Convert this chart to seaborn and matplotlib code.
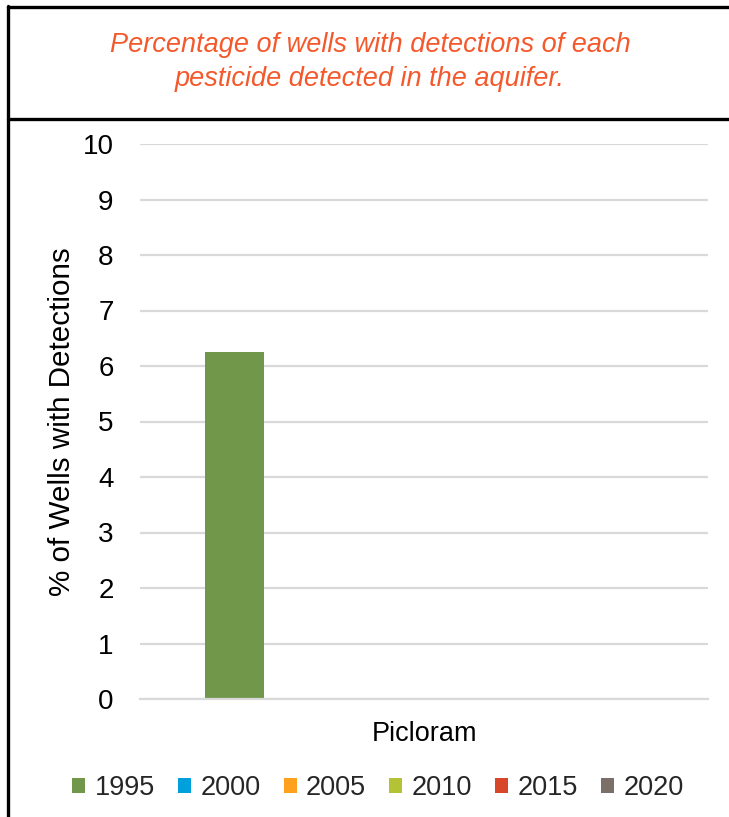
import matplotlib
matplotlib.use("Agg")
import matplotlib.pyplot as plt
from matplotlib.lines import Line2D
import seaborn as sns
import pandas as pd

# Detection data
pesticides = ["Picloram"]
years = ["1995", "2000", "2005", "2010", "2015", "2020"]
pct_detect = [6.25, 0, 0, 0, 0, 0]
year_colors = ["#70974a", "#00a0dc", "#ffa11c", "#b4c235", "#d9472b", "#7a7069"]
yticks = list(range(0, 11))

df = pd.DataFrame({
    "pesticide": pesticides * len(years),
    "year": years,
    "pct": pct_detect,
})

sns.set_theme(style="white")
plt.rcParams["font.family"] = ["Liberation Sans", "DejaVu Sans"]

fig = plt.figure(figsize=(7.29, 8.17), dpi=100)
ax = fig.add_axes([140 / 729, 1 - 699 / 817, 568 / 729, 555 / 817])

sns.barplot(data=df, x="pesticide", y="pct", hue="year", hue_order=years,
            palette=year_colors, width=0.8, gap=0.22, linewidth=0,
            saturation=1, ax=ax)

ax.set_xlim(-0.5, 0.5)
ax.set_ylim(0, 10)
ax.set_yticks(yticks)
ax.set_yticklabels([str(t) for t in yticks])
ax.grid(axis="y", color="#d9d9d9", linewidth=1.6)
ax.set_axisbelow(True)
for side in ["left", "right", "top"]:
    ax.spines[side].set_visible(False)
ax.spines["bottom"].set_color("#d9d9d9")
ax.spines["bottom"].set_linewidth(1.6)

ax.tick_params(axis="y", length=0, pad=19, labelsize=20, labelcolor="#000000")
ax.tick_params(axis="x", which="major", length=0, pad=16, labelsize=19.5, labelcolor="#000000")
ax.set_xticks([-0.5, 0.5], minor=True)
ax.tick_params(axis="x", which="minor", length=6, width=1.6, color="#d9d9d9", direction="out")

ax.set_xlabel("")
ax.set_ylabel("% of Wells with Detections", fontsize=21.3, color="#000000", labelpad=5)

sns.move_legend(ax, "center", bbox_to_anchor=(378 / 729, 1 - 788 / 817),
                bbox_transform=fig.transFigure, ncol=6, frameon=False, title=None,
                fontsize=19.5, handlelength=0.48, handleheight=0.48,
                handletextpad=0.35, columnspacing=0.85)

# Header box with the chart title
fig.text(370 / 729, 1 - 62 / 817,
         "Percentage of wells with detections of each\npesticide detected in the aquifer.",
         ha="center", va="center", fontsize=19.5, style="italic", color="#f4592c",
         linespacing=1.42)
lw = 2.4
fig.add_artist(Line2D([7.5 / 729, 1.0], [1 - 6.5 / 817, 1 - 6.5 / 817],
                      transform=fig.transFigure, color="black", linewidth=lw))
fig.add_artist(Line2D([7.5 / 729, 1.0], [1 - 119 / 817, 1 - 119 / 817],
                      transform=fig.transFigure, color="black", linewidth=lw))
fig.add_artist(Line2D([7.5 / 729, 7.5 / 729], [1 - 5.5 / 817, 0.0],
                      transform=fig.transFigure, color="black", linewidth=lw))

fig.savefig("out.png", dpi=100)
